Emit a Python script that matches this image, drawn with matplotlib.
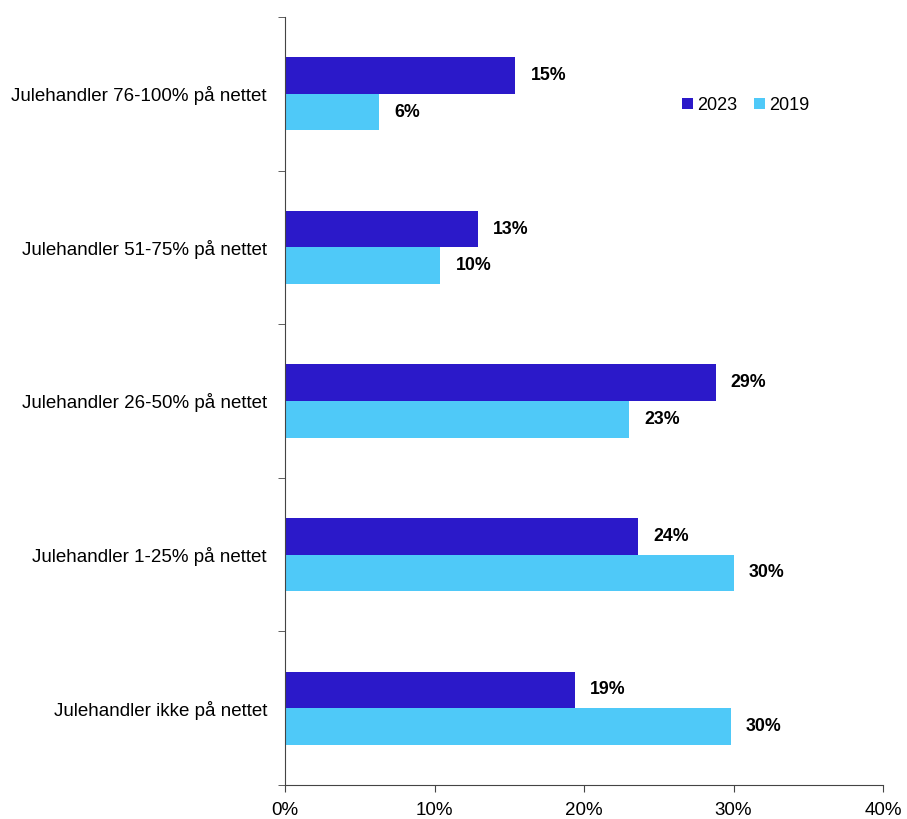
import numpy as np
import matplotlib.pyplot as plt
from matplotlib.ticker import FixedLocator

plt.rcParams['font.family'] = ['Liberation Sans', 'DejaVu Sans']

# data ------------------------------------------------------------------------
categories = ["Julehandler 76-100% på nettet",
              "Julehandler 51-75% på nettet",
              "Julehandler 26-50% på nettet",
              "Julehandler 1-25% på nettet",
              "Julehandler ikke på nettet"]
values_2023 = [15.4, 12.9, 28.8, 23.6, 19.4]
values_2019 = [6.3, 10.4, 23.0, 30.0, 29.8]
labels_2023 = ["15%", "13%", "29%", "24%", "19%"]
labels_2019 = ["6%", "10%", "23%", "30%", "30%"]
series_names = ["2023", "2019"]

c_2023 = "#2B19C9"
c_2019 = "#4FC9F8"

# plot ------------------------------------------------------------------------
fig = plt.figure(figsize=(9.07, 8.19), dpi=100)
ax = fig.add_axes([285 / 907, 1 - 785 / 819, 598 / 907, 768 / 819])

y = np.arange(len(categories))
h = 0.238
b1 = ax.barh(y - h / 2, values_2023, height=h, color=c_2023, label=series_names[0])
b2 = ax.barh(y + h / 2, values_2019, height=h, color=c_2019, label=series_names[1])

for bars, labs in [(b1, labels_2023), (b2, labels_2019)]:
    ax.bar_label(bars, labels=labs, padding=11, fontsize=12.8,
                 fontweight='bold', color='black')

ax.set_ylim(len(categories) - 0.5, -0.5)
ax.set_xlim(0, 40)
ax.set_xticks([0, 10, 20, 30, 40])
ax.set_xticklabels(["0%", "10%", "20%", "30%", "40%"], fontsize=13.5)
ax.set_yticks(y)
ax.set_yticklabels(categories, fontsize=13.5)
ax.tick_params(axis='y', which='major', length=0, pad=13)
ax.yaxis.set_minor_locator(FixedLocator(np.arange(-0.5, len(categories), 1.0)))
ax.tick_params(axis='y', which='minor', length=5, color='#444444')
ax.tick_params(axis='x', length=5, color='#444444', pad=7)

for s in ['top', 'right']:
    ax.spines[s].set_visible(False)
for s in ['left', 'bottom']:
    ax.spines[s].set_color('#444444')

ax.legend(loc='center left', bbox_to_anchor=(0.637, 0.885), ncol=2, frameon=False,
          fontsize=13, handlelength=0.6, handleheight=0.6, handletextpad=0.25,
          columnspacing=0.9)

plt.savefig("out.png", dpi=100)
